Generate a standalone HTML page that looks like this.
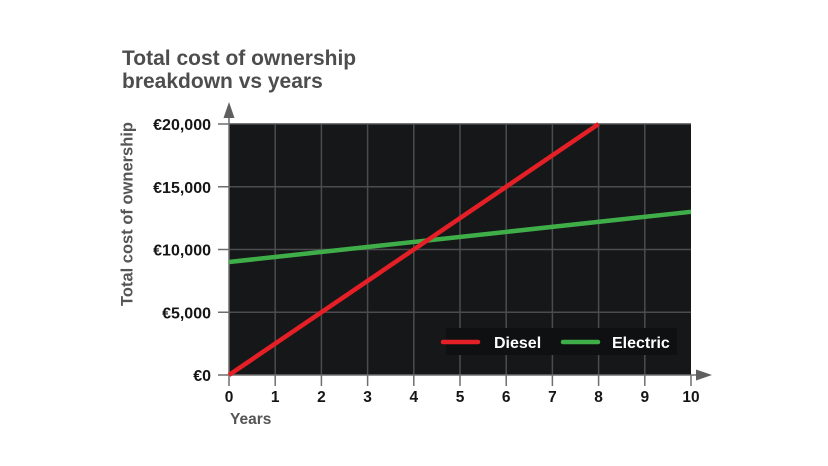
<!DOCTYPE html>
<html>
<head>
<meta charset="utf-8">
<style>
html,body{margin:0;padding:0;background:#fff;}
svg{display:block;}
text{font-family:"Liberation Sans",Arial,sans-serif;font-weight:bold;}
</style>
</head>
<body>
<svg width="828" height="466" viewBox="0 0 828 466" xmlns="http://www.w3.org/2000/svg">
  <rect x="0" y="0" width="828" height="466" fill="#ffffff"/>
  <!-- Title -->
  <text x="122" y="65" font-size="21" fill="#4d4d4d">Total cost of ownership</text>
  <text x="122" y="88" font-size="21" fill="#4d4d4d">breakdown vs years</text>

  <!-- Plot background -->
  <rect x="229" y="124" width="462" height="251" fill="#151719"/>

  <!-- Grid lines -->
  <g stroke="#4a4c4e" stroke-width="1.5">
    <line x1="275.2" y1="124" x2="275.2" y2="375"/>
    <line x1="321.4" y1="124" x2="321.4" y2="375"/>
    <line x1="367.6" y1="124" x2="367.6" y2="375"/>
    <line x1="413.8" y1="124" x2="413.8" y2="375"/>
    <line x1="460" y1="124" x2="460" y2="375"/>
    <line x1="506.2" y1="124" x2="506.2" y2="375"/>
    <line x1="552.4" y1="124" x2="552.4" y2="375"/>
    <line x1="598.6" y1="124" x2="598.6" y2="375"/>
    <line x1="644.8" y1="124" x2="644.8" y2="375"/>
    <line x1="229" y1="124" x2="691" y2="124"/>
    <line x1="229" y1="186.75" x2="691" y2="186.75"/>
    <line x1="229" y1="249.5" x2="691" y2="249.5"/>
    <line x1="229" y1="312.25" x2="691" y2="312.25"/>
  </g>

  <!-- Axis ticks -->
  <g stroke="#6e6e6e" stroke-width="1.5">
    <line x1="218" y1="124" x2="229" y2="124"/>
    <line x1="218" y1="186.75" x2="229" y2="186.75"/>
    <line x1="218" y1="249.5" x2="229" y2="249.5"/>
    <line x1="218" y1="312.25" x2="229" y2="312.25"/>
    <line x1="218" y1="375" x2="229" y2="375"/>
    <line x1="229" y1="375" x2="229" y2="386"/>
    <line x1="275.2" y1="375" x2="275.2" y2="386"/>
    <line x1="321.4" y1="375" x2="321.4" y2="386"/>
    <line x1="367.6" y1="375" x2="367.6" y2="386"/>
    <line x1="413.8" y1="375" x2="413.8" y2="386"/>
    <line x1="460" y1="375" x2="460" y2="386"/>
    <line x1="506.2" y1="375" x2="506.2" y2="386"/>
    <line x1="552.4" y1="375" x2="552.4" y2="386"/>
    <line x1="598.6" y1="375" x2="598.6" y2="386"/>
    <line x1="644.8" y1="375" x2="644.8" y2="386"/>
    <line x1="691" y1="375" x2="691" y2="386"/>
    <!-- axes -->
    <line x1="229" y1="114" x2="229" y2="375"/>
    <line x1="229" y1="375" x2="700" y2="375"/>
  </g>
  <!-- Arrow heads -->
  <polygon points="229,102 223.5,118 234.5,118" fill="#5f5f5f"/>
  <polygon points="712,375 696,369.5 696,380.5" fill="#5f5f5f"/>

  <!-- Series -->
  <line x1="229" y1="262" x2="691" y2="211.8" stroke="#3fae49" stroke-width="4.5"/>
  <line x1="229" y1="375" x2="598.6" y2="124" stroke="#e41f26" stroke-width="4.5"/>

  <!-- Legend -->
  <rect x="446" y="328" width="231" height="27" fill="#0f1011"/>
  <line x1="443" y1="342" x2="478" y2="342" stroke="#e41f26" stroke-width="4.5" stroke-linecap="round"/>
  <text x="494" y="348" font-size="16" fill="#ffffff">Diesel</text>
  <line x1="563" y1="342" x2="598" y2="342" stroke="#3fae49" stroke-width="4.5" stroke-linecap="round"/>
  <text x="612" y="348" font-size="16" fill="#ffffff">Electric</text>

  <!-- Y tick labels -->
  <g font-size="16" fill="#151515" text-anchor="end">
    <text x="211" y="130">€20,000</text>
    <text x="211" y="192.75">€15,000</text>
    <text x="211" y="255.5">€10,000</text>
    <text x="211" y="318.25">€5,000</text>
    <text x="211" y="381">€0</text>
  </g>

  <!-- X tick labels -->
  <g font-size="15.5" fill="#151515" text-anchor="middle">
    <text x="229" y="402">0</text>
    <text x="275.2" y="402">1</text>
    <text x="321.4" y="402">2</text>
    <text x="367.6" y="402">3</text>
    <text x="413.8" y="402">4</text>
    <text x="460" y="402">5</text>
    <text x="506.2" y="402">6</text>
    <text x="552.4" y="402">7</text>
    <text x="598.6" y="402">8</text>
    <text x="644.8" y="402">9</text>
    <text x="691" y="402">10</text>
  </g>

  <!-- Axis titles -->
  <text x="230" y="424" font-size="15.5" fill="#555555">Years</text>
  <text transform="translate(132.5,214) rotate(-90)" text-anchor="middle" font-size="16.5" fill="#555555">Total cost of ownership</text>
</svg>
</body>
</html>
